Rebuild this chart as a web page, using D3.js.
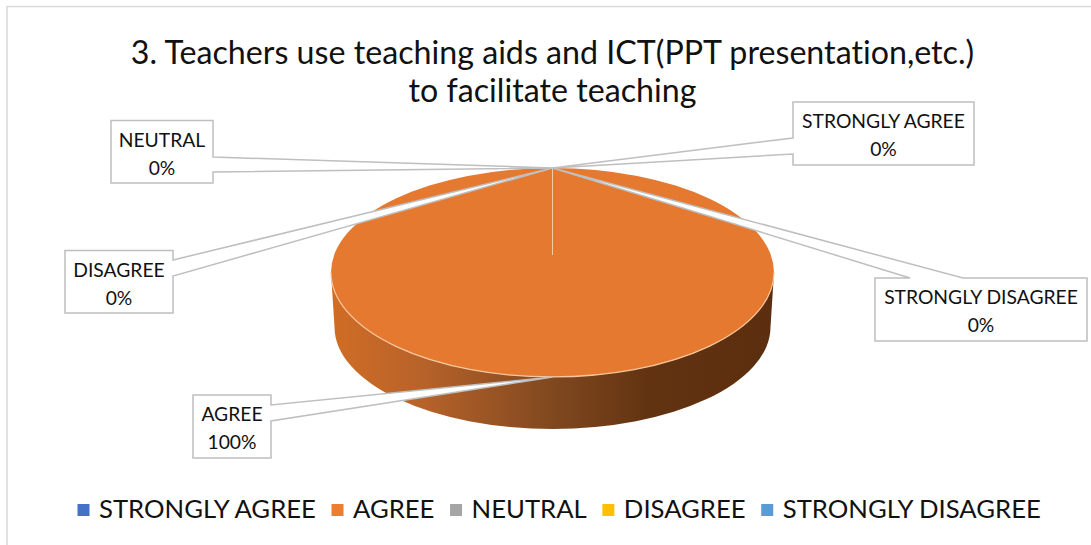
<!DOCTYPE html>
<html>
<head>
<meta charset="utf-8">
<style>
  html, body { margin: 0; padding: 0; background: #fff; }
  svg { display: block; }
  text { font-family: Lato, "Open Sans", sans-serif; fill: #111; font-variant-ligatures: none; }
</style>
<script src="https://cdn.jsdelivr.net/npm/d3@7"></script>
</head>
<body>
<div id="chart"></div>
<script>
const titleLines = ['3. Teachers use teaching aids and ICT(PPT presentation,etc.)', 'to facilitate teaching']
const categories = ['STRONGLY AGREE', 'AGREE', 'NEUTRAL', 'DISAGREE', 'STRONGLY DISAGREE']
const values = [0, 100, 0, 0, 0]
const colors = ['#4472c4', '#ed7d31', '#a5a5a5', '#ffc000', '#5b9bd5']

const WIDTH = 1091
const HEIGHT = 545
const TOP = { cx: 552.5, cy: 272.5, rx: 221.5, ry: 104.5 }
const BOTTOM = { cx: 552.5, cy: 327, rx: 218, ry: 102 }

const svg = d3.select('#chart')
  .append('svg')
  .attr('width', WIDTH)
  .attr('height', HEIGHT)

// Chart frame, cut off by the picture on the right and bottom
svg.append('path')
  .attr('d', `M7,${HEIGHT} V6.5 H${WIDTH}`)
  .attr('fill', 'none')
  .attr('stroke', '#d9d9d9')
  .attr('stroke-width', 1.5)

// Title
svg.append('g')
  .selectAll('text')
  .data(titleLines)
  .enter()
  .append('text')
  .attr('x', 552.5)
  .attr('y', (d, i) => 64 + i * 38)
  .attr('text-anchor', 'middle')
  .style('font-size', '32.2px')
  .text(d => d)

// Wall shading
const grad = svg.append('defs').append('linearGradient')
  .attr('id', 'wall')
  .attr('x1', 0).attr('x2', 1).attr('y1', 0).attr('y2', 0)
grad.selectAll('stop')
  .data([[0, '#d06d25'], [0.2, '#b8632a'], [0.5, '#80481f'], [0.72, '#623311'], [1, '#5b2e0f']])
  .enter()
  .append('stop')
  .attr('offset', d => d[0])
  .attr('stop-color', d => d[1])

const color = d3.scaleOrdinal().domain(categories).range(colors)

const slices = d3.pie().sort(null).value(d => d.value)(
  categories.map((name, i) => ({ name, value: values[i] }))
)

// Wall of the pie
svg.append('path')
  .attr('d', `M${TOP.cx - TOP.rx},${TOP.cy}
    L${BOTTOM.cx - BOTTOM.rx},${BOTTOM.cy}
    A${BOTTOM.rx},${BOTTOM.ry} 0 0 0 ${BOTTOM.cx + BOTTOM.rx},${BOTTOM.cy}
    L${TOP.cx + TOP.rx},${TOP.cy} Z`)
  .attr('fill', 'url(#wall)')

// Top face, a unit arc squashed into the ellipse
const arc = d3.arc().innerRadius(0).outerRadius(TOP.rx)
svg.append('g')
  .attr('transform', `translate(${TOP.cx},${TOP.cy}) scale(1,${TOP.ry / TOP.rx})`)
  .selectAll('path')
  .data(slices)
  .enter()
  .append('path')
  .attr('d', arc)
  .attr('fill', d => d3.color(color(d.data.name)).darker(0.08))

// Lit rim along the front of the top face
svg.append('path')
  .attr('d', `M${TOP.cx - TOP.rx},${TOP.cy}
    A${TOP.rx},${TOP.ry} 0 0 0 ${TOP.cx + TOP.rx},${TOP.cy}`)
  .attr('fill', 'none')
  .attr('stroke', '#f8c9a0')
  .attr('stroke-width', 1.2)

// Seam where the full slice meets itself
svg.append('line')
  .attr('x1', TOP.cx).attr('x2', TOP.cx)
  .attr('y1', TOP.cy - TOP.ry).attr('y2', 255)
  .attr('stroke', '#f3c9a0')
  .attr('stroke-width', 1)

// Callouts: box corners and where the tail leaves the box
const calloutLayout = {
  'STRONGLY AGREE': { x0: 793, y0: 102, x1: 974, y1: 165, tail: [[793, 154], [793, 138]] },
  'AGREE': { x0: 193, y0: 395, x1: 271, y1: 458, tail: [[271, 405], [271, 421]] },
  'NEUTRAL': { x0: 111, y0: 120.5, x1: 213, y1: 183, tail: [[213, 157], [213, 172]] },
  'DISAGREE': { x0: 65, y0: 250.5, x1: 173, y1: 313, tail: [[173, 260], [173, 276]] },
  'STRONGLY DISAGREE': { x0: 875, y0: 278, x1: 1087, y1: 341, tail: [[910, 278], [963, 278]] }
}

function tipOf(d) {
  const mid = (d.startAngle + d.endAngle) / 2
  return [TOP.cx + TOP.rx * Math.sin(mid), TOP.cy - TOP.ry * Math.cos(mid)]
}

// Walks the box clockwise from top left, putting the tail in on its own side
function calloutPoints(box, tip) {
  const { x0, y0, x1, y1, tail } = box
  if (tail[0][1] === y0) return [[x0, y0], tail[0], tip, tail[1], [x1, y0], [x1, y1], [x0, y1]]
  if (tail[0][0] === x1) return [[x0, y0], [x1, y0], tail[0], tip, tail[1], [x1, y1], [x0, y1]]
  return [[x0, y0], [x1, y0], [x1, y1], [x0, y1], tail[0], tip, tail[1]]
}

const outline = d3.line().curve(d3.curveLinearClosed)

const callouts = svg.append('g')
  .selectAll('g')
  .data(slices)
  .enter()
  .append('g')

callouts.append('path')
  .attr('d', d => outline(calloutPoints(calloutLayout[d.data.name], tipOf(d))))
  .attr('fill', '#fff')
  .attr('stroke', '#bfbfbf')
  .attr('stroke-width', 1.5)
  .attr('stroke-linejoin', 'miter')

callouts.each(function (d) {
  const box = calloutLayout[d.data.name]
  const g = d3.select(this)
  const cx = (box.x0 + box.x1) / 2
  g.append('text')
    .attr('x', cx).attr('y', box.y0 + 26)
    .attr('text-anchor', 'middle')
    .style('font-size', '19.3px')
    .text(d.data.name)
  g.append('text')
    .attr('x', cx).attr('y', box.y0 + 54)
    .attr('text-anchor', 'middle')
    .style('font-size', '19.3px')
    .text(`${d.value}%`)
})

// Legend, laid out left to right from the measured labels
const legend = svg.append('g')
let legendX = 77.5
categories.forEach(name => {
  const item = legend.append('g').attr('transform', `translate(${legendX},0)`)
  item.append('rect')
    .attr('y', 504)
    .attr('width', 12)
    .attr('height', 12)
    .attr('fill', color(name))
  const label = item.append('text')
    .attr('x', 21.5)
    .attr('y', 518)
    .style('font-size', '25.7px')
    .text(name)
  legendX += 21.5 + label.node().getComputedTextLength() + 15.6
})
</script>
</body>
</html>
